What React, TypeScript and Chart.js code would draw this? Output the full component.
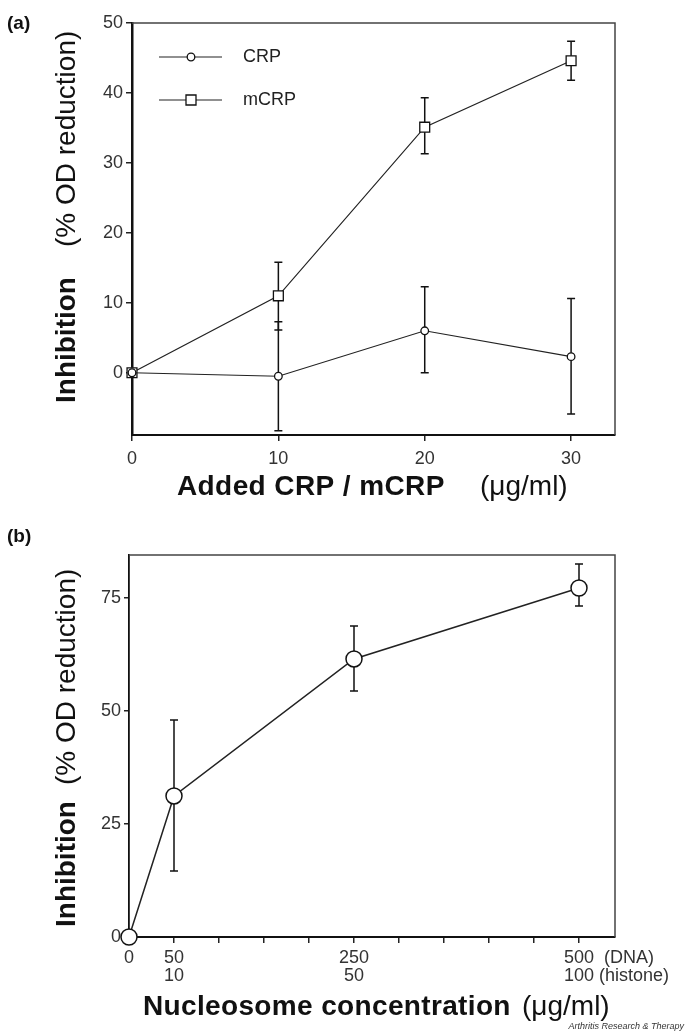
import React, { useEffect, useRef } from 'react';
import { Chart, registerables } from 'chart.js';

Chart.register(...registerables);

const FONT = "Arial, 'Liberation Sans', Helvetica, sans-serif";

// ---------- Panel (a) data ----------
const aDoses = [0, 10, 20, 30];
const aTickValuesX = [0, 10, 20, 30];
const aTickValuesY = [0, 10, 20, 30, 40, 50];
const crpMean = [0, -0.5, 6.0, 2.3];
const crpUpper = [0, 7.3, 12.3, 10.6];
const crpLower = [0, -8.3, 0.0, -5.9];
const mcrpMean = [0, 11.0, 35.1, 44.6];
const mcrpUpper = [0, 15.8, 39.3, 47.4];
const mcrpLower = [0, 6.1, 31.3, 41.8];
const aSeriesNames = ['CRP', 'mCRP'];

// ---------- Panel (b) data ----------
const nucDNA = [0, 50, 250, 500];
const nucMean = [0, 31.2, 61.5, 77.2];
const nucUpper = [0, 48.0, 68.8, 82.5];
const nucLower = [0, 14.6, 54.4, 73.2];
const bTickValuesX = [0, 50, 100, 150, 200, 250, 300, 350, 400, 450, 500];
const bTickValuesY = [0, 25, 50, 75];
const bLabelValues = [0, 50, 250, 500];
const bLabelDNA = ['0', '50', '250', '500'];
const bLabelHistone = ['', '10', '50', '100'];
const bSuffixDNA = '  (DNA)';
const bSuffixHistone = ' (histone)';

type Err = { upper: number[]; lower: number[] };

function errorBarPlugin(errs: Err[], cap: number) {
  return {
    id: 'errbars',
    beforeDatasetsDraw(chart: any) {
      const ctx = chart.ctx;
      const ys = chart.scales.y;
      ctx.save();
      ctx.strokeStyle = '#111';
      ctx.lineWidth = 1.5;
      errs.forEach((e, di) => {
        const meta = chart.getDatasetMeta(di);
        meta.data.forEach((pt: any, j: number) => {
          if (e.upper[j] === e.lower[j]) return;
          const x = pt.x;
          const yu = ys.getPixelForValue(e.upper[j]);
          const yl = ys.getPixelForValue(e.lower[j]);
          ctx.beginPath();
          ctx.moveTo(x, yu);
          ctx.lineTo(x, yl);
          ctx.moveTo(x - cap, yu);
          ctx.lineTo(x + cap, yu);
          ctx.moveTo(x - cap, yl);
          ctx.lineTo(x + cap, yl);
          ctx.stroke();
        });
      });
      ctx.restore();
    },
  };
}

function framePlugin() {
  return {
    id: 'frame',
    beforeDatasetsDraw(chart: any) {
      const { ctx, chartArea } = chart;
      ctx.save();
      ctx.strokeStyle = '#444';
      ctx.lineWidth = 1.5;
      ctx.beginPath();
      ctx.moveTo(chartArea.left, chartArea.top);
      ctx.lineTo(chartArea.right, chartArea.top);
      ctx.lineTo(chartArea.right, chartArea.bottom);
      ctx.stroke();
      ctx.restore();
    },
  };
}

function drawText(ctx: CanvasRenderingContext2D, text: string, bold: boolean, size: number, x: number, y: number, spacing = 0) {
  ctx.font = `${bold ? 'bold ' : ''}${size}px ${FONT}`;
  (ctx as any).letterSpacing = `${spacing}px`;
  ctx.fillText(text, x, y);
  (ctx as any).letterSpacing = '0px';
}

function textPluginA() {
  return {
    id: 'textsA',
    afterDraw(chart: any) {
      const ctx: CanvasRenderingContext2D = chart.ctx;
      ctx.save();
      ctx.fillStyle = '#111';
      ctx.textBaseline = 'alphabetic';
      ctx.textAlign = 'left';
      // panel label
      drawText(ctx, '(a)', true, 19, 7, 29);
      // y title (rotated)
      ctx.save();
      ctx.translate(75, 403);
      ctx.rotate(-Math.PI / 2);
      drawText(ctx, 'Inhibition', true, 28, 0, 0);
      drawText(ctx, '(% OD reduction)', false, 28, 156, 0);
      ctx.restore();
      // x title
      drawText(ctx, 'Added CRP / mCRP', true, 28, 177, 495, 0.4);
      drawText(ctx, '(\u03BCg/ml)', false, 28, 480, 495);
      // legend
      const rows = [57, 100];
      rows.forEach((y, i) => {
        ctx.strokeStyle = '#222';
        ctx.lineWidth = 1.2;
        ctx.beginPath();
        ctx.moveTo(159, y);
        ctx.lineTo(222, y);
        ctx.stroke();
        ctx.fillStyle = '#fff';
        ctx.lineWidth = 1.3;
        ctx.strokeStyle = '#111';
        ctx.beginPath();
        if (i === 0) ctx.arc(191, y, 3.8, 0, Math.PI * 2);
        else ctx.rect(186, y - 5, 10, 10);
        ctx.fill();
        ctx.stroke();
        ctx.fillStyle = '#222';
        ctx.textBaseline = 'middle';
        drawText(ctx, aSeriesNames[i], false, 18, 243, y);
        ctx.textBaseline = 'alphabetic';
      });
      ctx.restore();
    },
  };
}

function textPluginB() {
  return {
    id: 'textsB',
    afterDraw(chart: any) {
      const ctx: CanvasRenderingContext2D = chart.ctx;
      const xs = chart.scales.x;
      ctx.save();
      ctx.fillStyle = '#111';
      ctx.textBaseline = 'alphabetic';
      ctx.textAlign = 'left';
      drawText(ctx, '(b)', true, 19, 7, 542);
      // y title (rotated)
      ctx.save();
      ctx.translate(75, 927);
      ctx.rotate(-Math.PI / 2);
      drawText(ctx, 'Inhibition', true, 28, 0, 0);
      drawText(ctx, '(% OD reduction)', false, 28, 142, 0);
      ctx.restore();
      // x title
      drawText(ctx, 'Nucleosome concentration', true, 28, 143, 1015, 0.35);
      drawText(ctx, '(\u03BCg/ml)', false, 28, 522, 1015);
      // custom two-row tick labels
      ctx.fillStyle = '#333';
      ctx.font = `18px ${FONT}`;
      ctx.textBaseline = 'middle';
      bLabelValues.forEach((v, i) => {
        const px = xs.getPixelForValue(v);
        const last = i === bLabelValues.length - 1;
        const d = bLabelDNA[i];
        const h = bLabelHistone[i];
        const dx = px - ctx.measureText(d).width / 2;
        ctx.fillText(last ? d + bSuffixDNA : d, dx, 958);
        if (h) {
          const hx = last ? dx : px - ctx.measureText(h).width / 2;
          ctx.fillText(last ? h + bSuffixHistone : h, hx, 976);
        }
      });
      // watermark
      ctx.font = `italic 9px ${FONT}`;
      ctx.textAlign = 'right';
      ctx.textBaseline = 'alphabetic';
      ctx.fillStyle = '#333';
      ctx.fillText('Arthritis Research & Therapy', 684, 1029);
      ctx.restore();
    },
  };
}

const tickFont = { family: FONT, size: 18 };

function makeConfigA(): any {
  return {
    type: 'line',
    data: {
      datasets: [
        {
          label: aSeriesNames[0],
          data: aDoses.map((x, i) => ({ x, y: crpMean[i] })),
          borderColor: '#222',
          borderWidth: 1.2,
          pointStyle: 'circle',
          pointRadius: 3.8,
          pointBackgroundColor: '#fff',
          pointBorderColor: '#111',
          pointBorderWidth: 1.3,
          tension: 0,
          clip: false,
        },
        {
          label: aSeriesNames[1],
          data: aDoses.map((x, i) => ({ x, y: mcrpMean[i] })),
          borderColor: '#222',
          borderWidth: 1.2,
          pointStyle: 'rect',
          pointRadius: 7,
          pointBackgroundColor: '#fff',
          pointBorderColor: '#111',
          pointBorderWidth: 1.3,
          tension: 0,
          clip: false,
        },
      ],
    },
    options: {
      responsive: false,
      animation: false,
      events: [],
      layout: { padding: { top: 23, left: 0, right: 70, bottom: 518 } },
      plugins: { legend: { display: false }, tooltip: { enabled: false } },
      scales: {
        x: {
          type: 'linear',
          min: 0,
          max: 33,
          afterBuildTicks: (s: any) => { s.ticks = aTickValuesX.map((v) => ({ value: v })); },
          afterFit: (s: any) => { s.height = 80; },
          grid: { drawOnChartArea: false, drawTicks: true, tickLength: 6, color: '#222', lineWidth: 1.5 },
          border: { display: true, color: '#111', width: 2 },
          ticks: { font: tickFont, color: '#333', padding: 7, maxRotation: 0, autoSkip: false },
        },
        y: {
          type: 'linear',
          min: -8.9,
          max: 50,
          afterBuildTicks: (s: any) => { s.ticks = aTickValuesY.map((v) => ({ value: v })); },
          afterFit: (s: any) => { s.width = 132; },
          grid: { drawOnChartArea: false, drawTicks: true, tickLength: 6, color: '#222', lineWidth: 1.5 },
          border: { display: true, color: '#111', width: 2.5 },
          ticks: { font: tickFont, color: '#333', padding: 3, autoSkip: false },
        },
      },
    },
    plugins: [
      framePlugin(),
      errorBarPlugin([
        { upper: crpUpper, lower: crpLower },
        { upper: mcrpUpper, lower: mcrpLower },
      ], 4),
      textPluginA(),
    ],
  };
}

function makeConfigB(): any {
  return {
    type: 'line',
    data: {
      datasets: [
        {
          label: 'Nucleosome',
          data: nucDNA.map((x, i) => ({ x, y: nucMean[i] })),
          borderColor: '#222',
          borderWidth: 1.5,
          pointStyle: 'circle',
          pointRadius: 8,
          pointBackgroundColor: '#fff',
          pointBorderColor: '#111',
          pointBorderWidth: 1.5,
          tension: 0,
          clip: false,
        },
      ],
    },
    options: {
      responsive: false,
      animation: false,
      events: [],
      layout: { padding: { top: 555, left: 0, right: 70, bottom: 0 } },
      plugins: { legend: { display: false }, tooltip: { enabled: false } },
      scales: {
        x: {
          type: 'linear',
          min: 0,
          max: 540,
          afterBuildTicks: (s: any) => { s.ticks = bTickValuesX.map((v) => ({ value: v })); },
          afterFit: (s: any) => { s.height = 96; },
          grid: { drawOnChartArea: false, drawTicks: true, tickLength: 6, color: '#222', lineWidth: 1.5 },
          border: { display: true, color: '#111', width: 2 },
          ticks: { font: tickFont, color: '#333', padding: 4, maxRotation: 0, autoSkip: false, callback: () => '' },
        },
        y: {
          type: 'linear',
          min: 0,
          max: 84.5,
          afterBuildTicks: (s: any) => { s.ticks = bTickValuesY.map((v) => ({ value: v })); },
          afterFit: (s: any) => { s.width = 129; },
          grid: { drawOnChartArea: false, drawTicks: true, tickLength: 5, color: '#222', lineWidth: 1.5 },
          border: { display: true, color: '#111', width: 1.8 },
          ticks: { font: tickFont, color: '#333', padding: 3, autoSkip: false },
        },
      },
    },
    plugins: [
      framePlugin(),
      errorBarPlugin([{ upper: nucUpper, lower: nucLower }], 4),
      textPluginB(),
    ],
  };
}

export default function App() {
  const refA = useRef<HTMLCanvasElement>(null);
  const refB = useRef<HTMLCanvasElement>(null);
  useEffect(() => {
    const a = new Chart(refA.current as HTMLCanvasElement, makeConfigA());
    const b = new Chart(refB.current as HTMLCanvasElement, makeConfigB());
    return () => {
      a.destroy();
      b.destroy();
    };
  }, []);
  const cs: React.CSSProperties = { position: 'absolute', left: 0, top: 0 };
  return (
    <div style={{ position: 'absolute', left: 0, top: 0, width: 685, height: 1033, background: '#fff' }}>
      <canvas ref={refA} width={685} height={1033} style={cs} />
      <canvas ref={refB} width={685} height={1033} style={cs} />
    </div>
  );
}
